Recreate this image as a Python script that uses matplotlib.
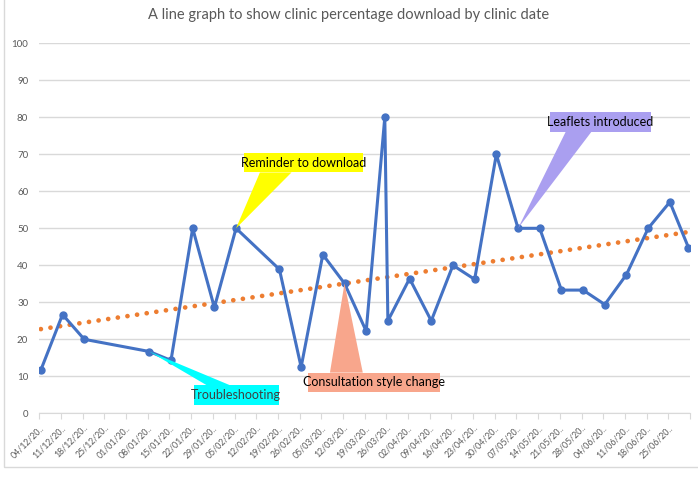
import datetime as dt
import numpy as np
import matplotlib
matplotlib.use("Agg")
import matplotlib.pyplot as plt
import matplotlib.dates as mdates
from matplotlib.patches import Polygon, Rectangle

plt.rcParams["font.family"] = ["Lato", "DejaVu Sans"]

# clinic dates and % downloaded
clinic_dates = ["2020-12-04", "2020-12-11", "2020-12-18", "2021-01-08", "2021-01-15",
                "2021-01-22", "2021-01-29", "2021-02-05", "2021-02-19", "2021-02-26",
                "2021-03-05", "2021-03-12", "2021-03-19", "2021-03-25", "2021-03-26",
                "2021-04-02", "2021-04-09", "2021-04-16", "2021-04-23", "2021-04-30",
                "2021-05-07", "2021-05-14", "2021-05-21", "2021-05-28", "2021-06-04",
                "2021-06-11", "2021-06-18", "2021-06-25", "2021-07-01"]
pct_download = [11.7, 26.7, 20.0, 16.7, 14.3, 50.0, 28.6, 50.0, 38.9, 12.5,
                42.9, 35.1, 22.2, 80.0, 25.0, 36.4, 25.0, 40.0, 36.2, 70.0,
                50.0, 50.0, 33.3, 33.3, 29.4, 37.5, 50.0, 57.1, 44.8]

axis_start = "2020-12-04"
axis_end = "2021-07-02"
y_ticks = [0, 10, 20, 30, 40, 50, 60, 70, 80, 90, 100]

# callouts: text, date it points at, box colour, text colour
callouts = [
    ("Reminder to download", "2021-02-05", "#FFFF00", "#000000"),
    ("Troubleshooting", "2021-01-08", "#00FFFF", "#404040"),
    ("Consultation style change", "2021-03-12", "#F8A68C", "#000000"),
    ("Leaflets introduced", "2021-05-07", "#AA9FF0", "#000000"),
]
# box (x0, x1, y0, y1) in days from axis start / % and wedge base (xa, xb, y)
callout_geom = [
    ((66.1, 104.4, 65.1, 70.4), (71.2, 81.4, 65.1)),
    ((49.9, 77.3, 2.2, 7.6), (54.0, 61.5, 7.6)),
    ((86.7, 129.3, 5.7, 11.0), (93.8, 104.4, 11.0)),
    ((164.8, 197.3, 76.1, 81.5), (169.9, 178.2, 76.1)),
]

d = np.array([mdates.date2num(dt.date.fromisoformat(s)) for s in clinic_dates])
x = d + 0.5
y = np.array(pct_download)
x0 = mdates.date2num(dt.date.fromisoformat(axis_start))
x1 = mdates.date2num(dt.date.fromisoformat(axis_end))

fig = plt.figure(figsize=(6.98, 4.80), dpi=100)
ax = fig.add_axes([39.3 / 698, (480 - 413.3) / 480, (690 - 39.3) / 698, 370 / 480])

ax.set_xlim(x0, x1)
ax.set_ylim(0, 100)
ax.set_yticks(y_ticks)
ax.yaxis.grid(True, color="#D9D9D9", lw=1)
ax.set_axisbelow(True)
for s in ["top", "right", "left"]:
    ax.spines[s].set_visible(False)
ax.spines["bottom"].set_color("#D9D9D9")
ax.tick_params(axis="y", length=0, pad=8, labelsize=7, labelcolor="#595959")

xt = np.arange(x0, x1 + 0.1, 7)
ax.set_xticks(xt)
labels = [mdates.num2date(t).strftime("%d/%m/%Y")[:8] + ".." for t in xt[:-1]] + [""]
ax.set_xticklabels(labels, rotation=45, ha="right", va="top", rotation_mode="anchor",
                   fontsize=6.3, color="#595959")
ax.tick_params(axis="x", length=4, color="#D9D9D9", pad=3)

# linear trendline
k, b = np.polyfit(x, y, 1)
ax.plot([x[0], x[-1]], [k * x[0] + b, k * x[-1] + b], color="#ED7D31", lw=3.4,
        ls=(0, (0.01, 2.05)), dash_capstyle="round", zorder=2)

ax.plot(x, y, color="#4472C4", lw=2.2, marker="o", ms=5, zorder=3)

for (txt, when, fc, tc), (box, base) in zip(callouts, callout_geom):
    i = clinic_dates.index(when)
    bx0, bx1, by0, by1 = box
    tri = Polygon([(x[i], y[i]), (x0 + base[0], base[2]), (x0 + base[1], base[2])],
                  closed=True, fc=fc, ec="none", zorder=4)
    ax.add_patch(tri)
    ax.add_patch(Rectangle((x0 + bx0, by0), bx1 - bx0, by1 - by0, fc=fc, ec="none",
                           zorder=4, clip_on=False))
    ax.text(x0 + (bx0 + bx1) / 2, (by0 + by1) / 2, txt, ha="center", va="center",
            fontsize=9, color=tc, zorder=5)

fig.text(0.5, 1 - 15 / 480, "A line graph to show clinic percentage download by clinic date",
         ha="center", va="center", fontsize=10.5, color="#595959")

fig.add_artist(Rectangle((4 / 698, (480 - 467) / 480), 1.2, 1.2, transform=fig.transFigure,
                         fill=False, ec="#D9D9D9", lw=1))

fig.savefig("out.png", dpi=100)
